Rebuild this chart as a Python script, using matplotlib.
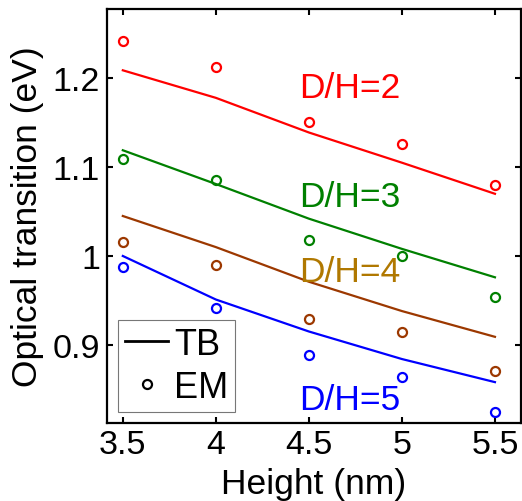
import matplotlib
matplotlib.use('Agg')
import matplotlib.pyplot as plt
from matplotlib.lines import Line2D

plt.rcParams['font.family'] = ['Liberation Sans', 'DejaVu Sans']

height = [3.5, 4.0, 4.5, 5.0, 5.5]

# TB (lines) and EM (circles) for each D/H
tb_dh2 = [1.209, 1.178, 1.139, 1.105, 1.070]
em_dh2 = [1.242, 1.213, 1.151, 1.126, 1.080]
tb_dh3 = [1.119, 1.081, 1.042, 1.008, 0.976]
em_dh3 = [1.109, 1.085, 1.018, 1.000, 0.954]
tb_dh4 = [1.045, 1.010, 0.971, 0.938, 0.909]
em_dh4 = [1.016, 0.990, 0.929, 0.914, 0.870]
tb_dh5 = [1.000, 0.951, 0.915, 0.884, 0.858]
em_dh5 = [0.988, 0.942, 0.888, 0.864, 0.824]

labels = ['D/H=2', 'D/H=3', 'D/H=4', 'D/H=5']
line_colors = ['#ff0000', '#008000', '#9c3800', '#0000ff']
text_colors = ['#ff0000', '#008000', '#b07800', '#0000ff']
label_y = [1.19, 1.067, 0.982, 0.839]

fig = plt.figure(figsize=(5.22, 5.02), dpi=100)
ax = fig.add_axes([107/522, 78/502, 414/522, 414/502])

series = [(tb_dh2, em_dh2), (tb_dh3, em_dh3), (tb_dh4, em_dh4), (tb_dh5, em_dh5)]
for (tb, em), c in zip(series, line_colors):
    ax.plot(height, tb, '-', color=c, lw=1.6)
    ax.plot(height, em, 'o', mfc='none', mec=c, mew=1.6, ms=6.5, ls='none')

for lab, c, y in zip(labels, text_colors, label_y):
    ax.text(4.446, y, lab, color=c, fontsize=25.5, va='center', ha='left')

ax.set_xlim(3.415, 5.64)
ax.set_ylim(0.812, 1.278)
ax.set_xticks([3.5, 4, 4.5, 5, 5.5])
ax.set_xticklabels(['3.5', '4', '4.5', '5', '5.5'])
ax.set_yticks([0.9, 1.0, 1.1, 1.2])
ax.set_yticklabels(['0.9', '1', '1.1', '1.2'])
ax.tick_params(direction='in', top=True, right=True, labelsize=24.5, width=1.5, length=4)
ax.tick_params(axis='x', pad=4)
ax.tick_params(axis='y', pad=5)
for sp in ax.spines.values():
    sp.set_linewidth(1.6)

ax.set_xlabel('Height (nm)', fontsize=25.5, va='baseline')
ax.xaxis.set_label_coords(0.5, -0.169)
ax.set_ylabel('Optical transition (eV)', fontsize=25.5)
ax.yaxis.set_label_coords(-0.152, 0.5)

handles = [Line2D([], [], color='k', lw=2),
           Line2D([], [], marker='o', ls='none', mfc='none', mec='k', mew=1.6, ms=6.5)]
leg = ax.legend(handles, ['TB', 'EM'], loc='lower left', fontsize=26, frameon=True,
                fancybox=False, handlelength=1.2, handletextpad=0.15, borderpad=0.2,
                labelspacing=0.22, borderaxespad=0.3)
leg.get_frame().set_edgecolor('#555555')
leg.get_frame().set_linewidth(0.8)

fig.savefig('out.png', dpi=100)
